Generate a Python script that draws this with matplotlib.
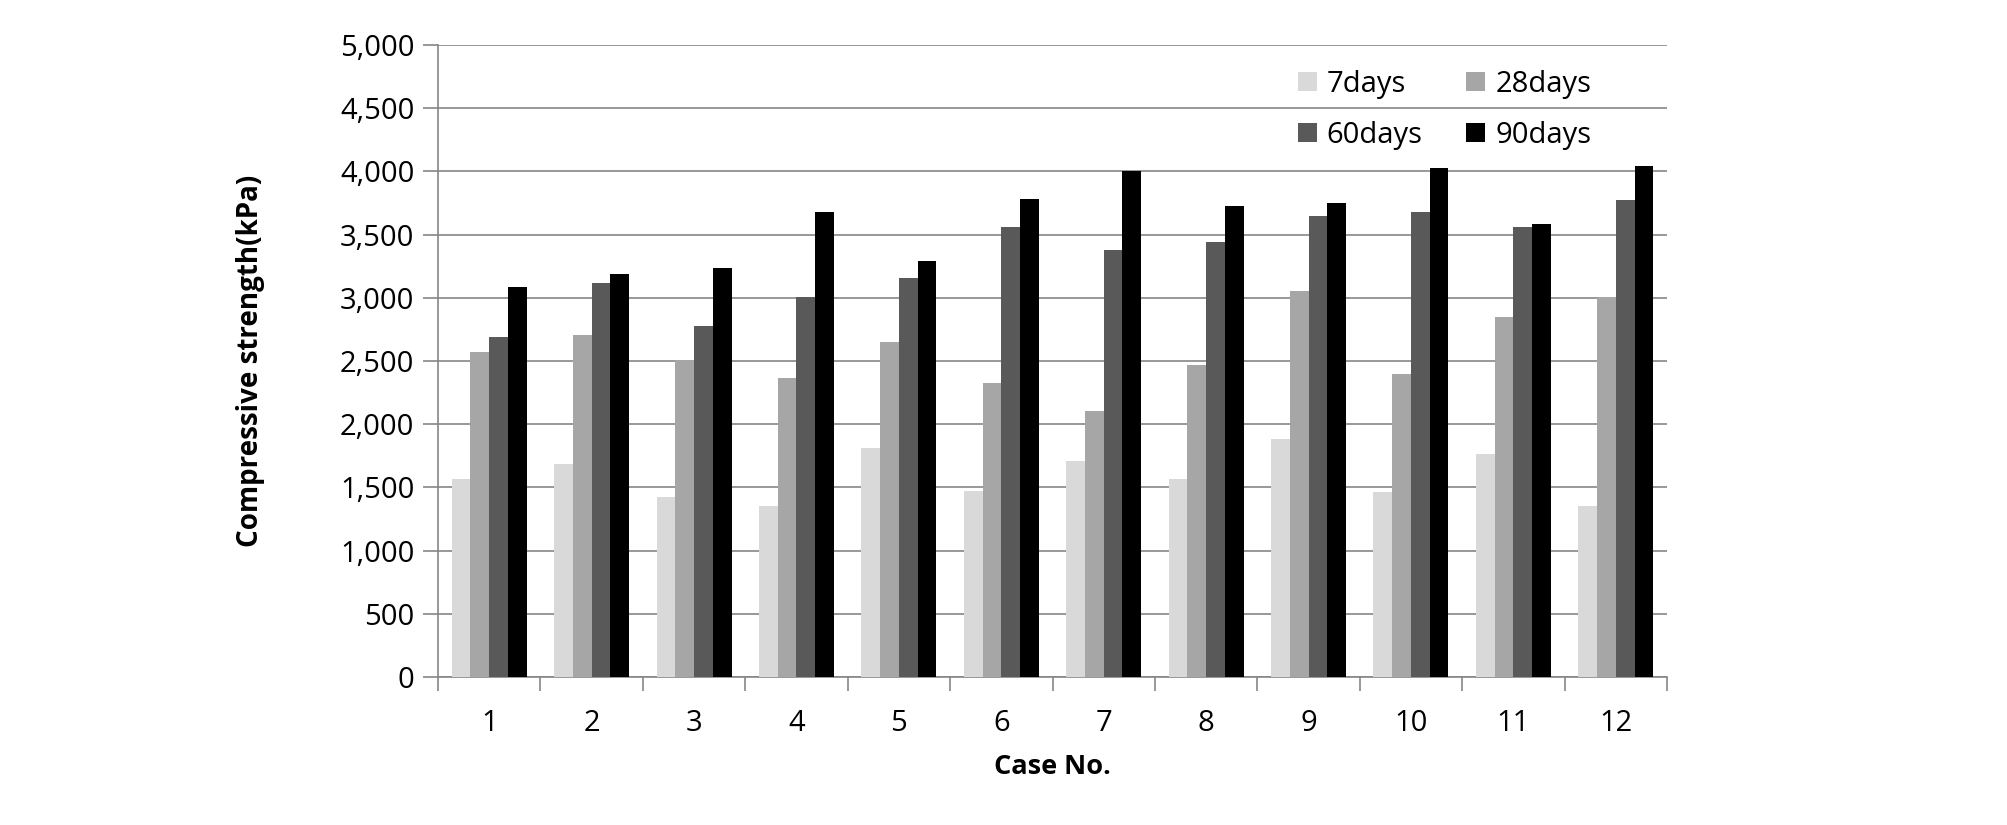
import matplotlib
matplotlib.use("Agg")
import matplotlib.pyplot as plt
import numpy as np
from matplotlib.ticker import FuncFormatter, MultipleLocator
from matplotlib.patches import Patch

cases = ["1", "2", "3", "4", "5", "6", "7", "8", "9", "10", "11", "12"]
days7 = [1569, 1686, 1428, 1353, 1813, 1473, 1710, 1569, 1883, 1463, 1767, 1353]
days28 = [2569, 2707, 2505, 2367, 2654, 2329, 2106, 2470, 3053, 2399, 2852, 3007]
days60 = [2693, 3120, 2777, 3007, 3159, 3562, 3382, 3445, 3650, 3675, 3562, 3777]
days90 = [3088, 3187, 3237, 3682, 3293, 3784, 4004, 3728, 3753, 4028, 3587, 4039]
series_names = ["7days", "28days", "60days", "90days"]
colors = ["#d9d9d9", "#a6a6a6", "#595959", "#000000"]

plt.rcParams['font.family'] = ['Open Sans', 'DejaVu Sans']

fig = plt.figure(figsize=(20.08, 8.25), dpi=100)
ax = fig.add_axes([438/2008, 1-677/825, (1667-438)/2008, (677-45)/825])

x = np.arange(len(cases))
w = 0.183
for i, (vals, c) in enumerate(zip([days7, days28, days60, days90], colors)):
    ax.bar(x + (i - 1.5) * w, vals, width=w, color=c, zorder=3, linewidth=0)

ax.set_xlim(-0.5, len(cases) - 0.5)
ax.set_ylim(0, 5000)
ax.yaxis.set_major_locator(MultipleLocator(500))
ax.yaxis.set_major_formatter(FuncFormatter(lambda v, p: f"{int(v):,}"))
ax.grid(axis='y', color='#868686', linewidth=1.2, zorder=0)

ax.set_xticks(x)
ax.set_xticklabels(cases)
ax.set_xticks(np.arange(-0.5, len(cases) + 0.5, 1), minor=True)
ax.tick_params(axis='x', which='major', length=0, pad=23, labelsize=21)
ax.tick_params(axis='x', which='minor', length=10, color='#868686', width=1.2)
ax.tick_params(axis='y', length=11, color='#868686', width=1.2, pad=6, labelsize=21)

for s in ['top', 'right']:
    ax.spines[s].set_visible(False)
for s in ['left', 'bottom']:
    ax.spines[s].set_color('#868686')
    ax.spines[s].set_linewidth(1.2)

ax.set_xlabel("Case No.", fontsize=19.5, fontweight='bold')
ax.set_ylabel("Compressive strength(kPa)", fontsize=20, fontweight='bold')
ax.xaxis.set_label_coords(0.5, -(767 - 677) / (677 - 45))
ax.yaxis.set_label_coords((251 - 438) / (1667 - 438), 0.5)
ax.xaxis.label.set_va('center')
ax.yaxis.label.set_va('center')

handles = [Patch(facecolor=c, edgecolor='none', label=n) for c, n in zip(colors, series_names)]
leg = ax.legend(handles=[handles[0], handles[2], handles[1], handles[3]], ncol=2,
                loc='upper left', bbox_to_anchor=((1286-438)/(1667-438), 1-(58-45)/(677-45)),
                frameon=False, fontsize=21, handlelength=0.65, handleheight=0.65,
                handletextpad=0.35, columnspacing=1.5, labelspacing=0.75, borderaxespad=0)

fig.savefig("out.png", dpi=100, facecolor='white')
